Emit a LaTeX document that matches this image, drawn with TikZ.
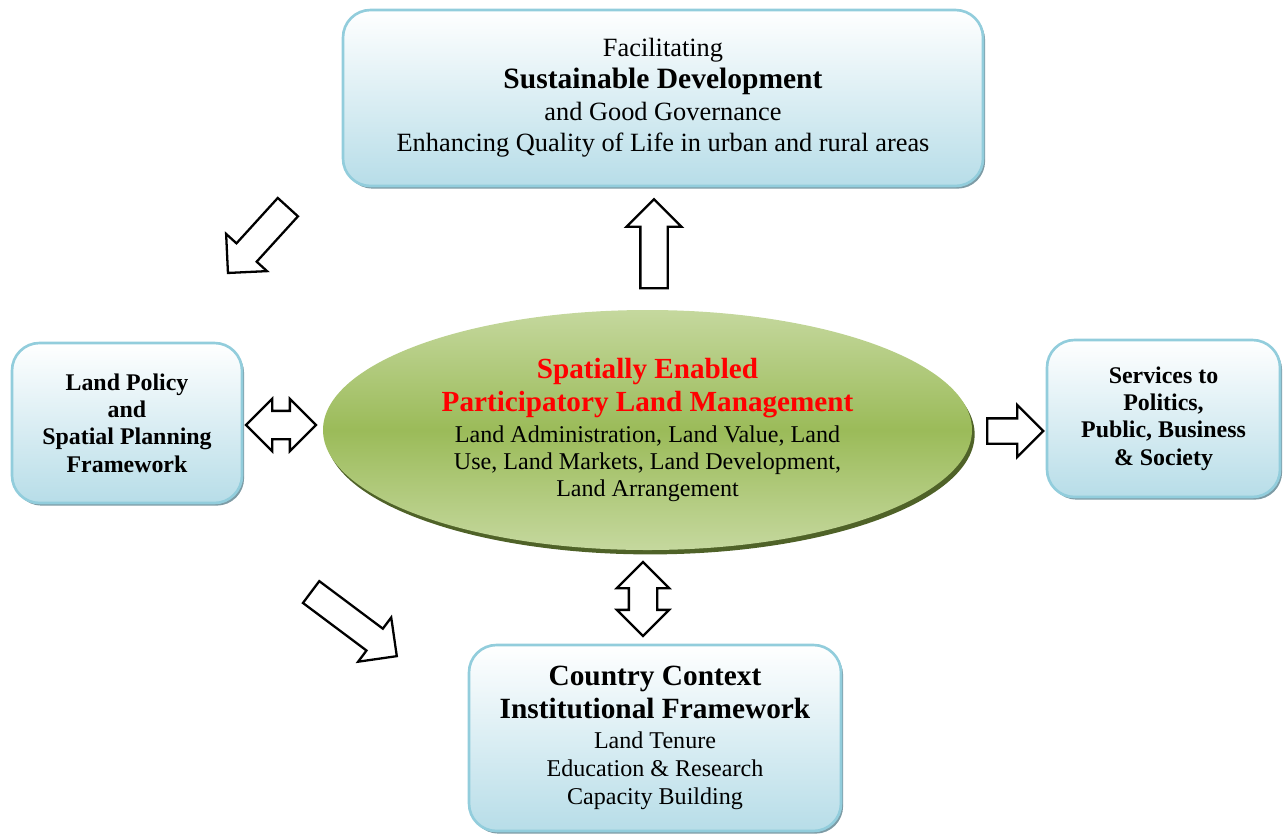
\documentclass[tikz,border=0pt]{standalone}
\usepackage{fontspec}
\setmainfont{Liberation Serif}
\usepackage{tikz}
\usetikzlibrary{shapes.geometric,shapes.arrows,shadows,positioning}
\definecolor{boxline}{RGB}{146,205,220}
\definecolor{boxfill}{RGB}{183,221,232}
\definecolor{boxshade}{RGB}{125,155,165}
\definecolor{ellmid}{RGB}{155,187,89}
\definecolor{elllight}{RGB}{197,216,158}
\definecolor{elldark}{RGB}{79,98,40}
\definecolor{titlered}{RGB}{255,0,0}

\begin{document}
\begin{tikzpicture}
    \tikzstyle{panel} = [rectangle, rounded corners=0.55cm, draw=boxline, line width=1.5pt, top color=white, bottom color=boxfill, align=center, inner sep=0pt, drop shadow={shadow xshift=1.2pt, shadow yshift=-1.5pt, fill=boxshade, opacity=1}]
    \tikzstyle{core} = [ellipse, top color=elllight, bottom color=elllight, middle color=ellmid, align=center, inner sep=0pt, drop shadow={shadow xshift=1.5pt, shadow yshift=-2.5pt, fill=elldark, opacity=1}]
    \tikzstyle{blockarrow} = [single arrow, draw=black, line width=1.3pt, fill=white, inner xsep=0pt, inner ysep=0.25cm, single arrow head extend=0.28cm]
    \tikzstyle{twoway} = [double arrow, draw=black, line width=1.3pt, fill=white, inner xsep=0pt, inner ysep=0.26cm, double arrow head extend=0.24cm]

    \useasboundingbox (0,0) rectangle (25.74,-16.7);

    % boxes
    \node (goal) [panel, minimum width=12.8cm, minimum height=3.52cm, font=\fontsize{15}{18}\selectfont] at (13.26,-1.96)
        {Facilitating\\
         {\fontsize{16.8}{18}\selectfont\bfseries Sustainable Development}\\
         and Good Governance\\
         Enhancing Quality of Life in urban and rural areas};
    \node (policy) [panel, minimum width=4.6cm, minimum height=3.2cm, font=\fontsize{13.6}{15.5}\selectfont\bfseries] at (2.54,-8.46)
        {Land Policy\\ and\\ Spatial Planning\\ Framework};
    \node (services) [panel, minimum width=4.66cm, minimum height=3.14cm, font=\fontsize{13.6}{15.5}\selectfont\bfseries] at (23.27,-8.37)
        {Services to\\ Politics,\\ Public, Business\\ \& Society};
    \node (context) [panel, minimum width=7.44cm, minimum height=3.72cm, font=\fontsize{13.7}{16}\selectfont] at (13.1,-14.76)
        {{\fontsize{16.7}{19}\selectfont\bfseries Country Context}\\[2.7pt]
         {\fontsize{16.7}{19}\selectfont\bfseries Institutional Framework}\\[1pt]
         Land Tenure\\ Education \& Research\\ Capacity Building};

    % centre
    \node (landmgmt) [core, minimum width=12.98cm, minimum height=4.8cm, font=\fontsize{13.7}{15.3}\selectfont] at (12.95,-8.6)
        {{\fontsize{16.6}{18}\selectfont\bfseries\color{titlered} Spatially Enabled}\\[3.4pt]
         {\fontsize{16.6}{18}\selectfont\bfseries\color{titlered} Participatory Land Management}\\[2.3pt]
         Land Administration, Land Value, Land\\
         Use, Land Markets, Land Development,\\
         Land Arrangement};

    % block arrows
    \node (toGoal) [blockarrow, minimum height=1.78cm, rotate=90] at (13.08,-5.01) {};
    \node (toPolicy) [blockarrow, minimum height=1.78cm, rotate=227.7] at (5.25,-4.70) {};
    \node (toContext) [blockarrow, minimum height=2.14cm, rotate=-36.8] at (6.97,-12.40) {};
    \node (toServices) [blockarrow, minimum height=1.12cm, inner ysep=0.23cm, single arrow head extend=0.27cm] at (20.18,-8.62) {};
    \node (policyLink) [twoway, minimum height=1.4cm] at (5.62,-8.5) {};
    \node (contextLink) [twoway, minimum height=1.48cm, rotate=90] at (12.86,-11.98) {};
\end{tikzpicture}
\end{document}
